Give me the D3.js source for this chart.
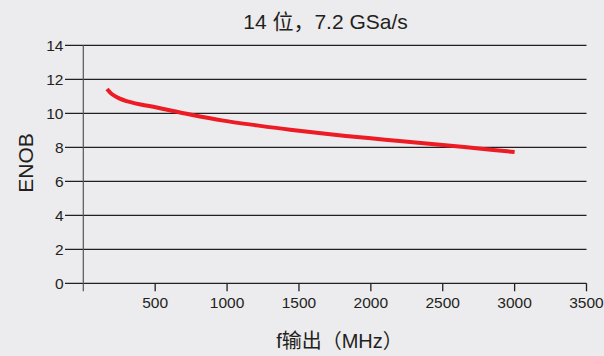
<!DOCTYPE html>
<html>
<head>
<meta charset="utf-8">
<script src="https://cdn.jsdelivr.net/npm/d3@7/dist/d3.min.js"></script>
<style>
  html, body { margin: 0; padding: 0; background: #ecebed; }
  svg { display: block; }
  text { font-family: "Liberation Sans", Arial, "Noto Sans CJK SC", sans-serif; fill: #231f20; }
</style>
</head>
<body>
<svg id="chart" width="604" height="356"></svg>
<script>
const chartTitle = "14 位，7.2 GSa/s";
const xTitle = "f输出（MHz）";
const yTitle = "ENOB";
const xTicks = [500, 1000, 1500, 2000, 2500, 3000, 3500];
const yTicks = [0, 2, 4, 6, 8, 10, 12, 14];
const freqMHz = [165, 200, 250, 300, 400, 511, 743, 975, 1207, 1439, 1700, 2000, 2200, 2500, 2750, 3000];
const enob    = [11.43, 11.12, 10.88, 10.72, 10.52, 10.34, 9.93, 9.57, 9.29, 9.03, 8.78, 8.53, 8.37, 8.14, 7.93, 7.72];

const svg = d3.select("#chart");
const x = d3.scaleLinear().domain([0, 3500]).range([83.3, 586.5]);
const y = d3.scaleLinear().domain([0, 14]).range([283.3, 45.3]);
const ink = "#231f20";

// horizontal gridlines (extend left as ticks)
svg.append("g").selectAll("line").data(yTicks).join("line")
  .attr("x1", 65).attr("x2", x(3500))
  .attr("y1", d => y(d)).attr("y2", d => y(d))
  .attr("stroke", ink).attr("stroke-width", 1.3);

// y axis line
svg.append("line")
  .attr("x1", x(0)).attr("x2", x(0))
  .attr("y1", y(14)).attr("y2", y(0) + 8)
  .attr("stroke", "#555").attr("stroke-width", 1.2);

// x axis ticks
svg.append("g").selectAll("line").data(xTicks).join("line")
  .attr("x1", d => x(d)).attr("x2", d => x(d))
  .attr("y1", y(0)).attr("y2", y(0) + 8)
  .attr("stroke", ink).attr("stroke-width", 1.3);

// y tick labels
svg.append("g").selectAll("text").data(yTicks).join("text")
  .attr("x", 63.5).attr("y", d => y(d) + 5.6)
  .attr("text-anchor", "end")
  .style("font-size", "15.5px")
  .text(d => d);

// x tick labels
svg.append("g").selectAll("text").data(xTicks).join("text")
  .attr("x", d => x(d)).attr("y", 307.5)
  .attr("text-anchor", "middle")
  .style("font-size", "15.5px")
  .text(d => d);

// line
const pts = freqMHz.map((f, i) => [f, enob[i]]);
svg.append("path")
  .datum(pts)
  .attr("fill", "none")
  .attr("stroke", "#ed1c24")
  .attr("stroke-width", 4)
  .attr("d", d3.line().x(d => x(d[0])).y(d => y(d[1])).curve(d3.curveCatmullRom.alpha(0.5)));

// titles
svg.append("text").attr("x", 325.5).attr("y", 29)
  .attr("text-anchor", "middle").style("font-size", "21px").text(chartTitle);
svg.append("text").attr("x", 339.5).attr("y", 348)
  .attr("text-anchor", "middle").style("font-size", "20px").text(xTitle);
svg.append("text").attr("transform", "translate(33,163) rotate(-90)")
  .attr("text-anchor", "middle").style("font-size", "21px").text(yTitle);
</script>
</body>
</html>
